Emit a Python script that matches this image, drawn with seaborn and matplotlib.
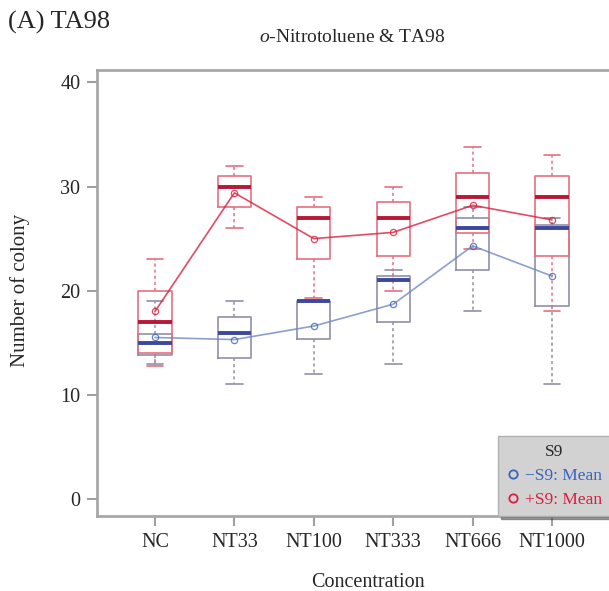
import numpy as np
import pandas as pd
import matplotlib
matplotlib.use("Agg")
import matplotlib.pyplot as plt
from matplotlib.lines import Line2D
import seaborn as sns

# ---- data ----
categories = ["NC", "NT33", "NT100", "NT333", "NT666", "NT1000"]

# five-number summaries: low whisker, Q1, median, Q3, high whisker
minus_lo  = [13.0, 11.0, 12.0, 13.0, 18.0, 11.0]
minus_q1  = [13.8, 13.5, 15.4, 17.0, 22.0, 18.5]
minus_med = [15.0, 15.9, 19.0, 21.0, 26.0, 26.0]
minus_q3  = [15.8, 17.5, 19.0, 21.4, 27.0, 26.3]
minus_hi  = [19.0, 19.0, 19.0, 22.0, 28.0, 27.0]
minus_mean = [15.5, 15.3, 16.6, 18.7, 24.3, 21.4]

plus_lo  = [12.8, 26.0, 19.3, 20.0, 24.0, 18.0]
plus_q1  = [14.0, 28.0, 23.0, 23.3, 25.5, 23.3]
plus_med = [17.0, 30.0, 27.0, 27.0, 29.0, 29.0]
plus_q3  = [20.0, 31.0, 28.0, 28.5, 31.3, 31.0]
plus_hi  = [23.0, 32.0, 29.0, 30.0, 33.8, 33.0]
plus_mean = [18.0, 29.4, 25.0, 25.6, 28.2, 26.8]

y_ticks = [0, 10, 20, 30, 40]


def five_num_frame(lo, q1, med, q3, hi):
    rows = []
    for c, a, b, m, d, e in zip(categories, lo, q1, med, q3, hi):
        for v in (a, b, m, d, e):
            rows.append({"Concentration": c, "Number of colony": v})
    return pd.DataFrame(rows)


df_minus = five_num_frame(minus_lo, minus_q1, minus_med, minus_q3, minus_hi)
df_plus = five_num_frame(plus_lo, plus_q1, plus_med, plus_q3, plus_hi)
mean_minus = pd.DataFrame({"Concentration": categories, "Number of colony": minus_mean})
mean_plus = pd.DataFrame({"Concentration": categories, "Number of colony": plus_mean})

# ---- style ----
sns.set_style("white")
plt.rcParams["font.family"] = ["Liberation Serif", "DejaVu Serif"]
plt.rcParams["mathtext.fontset"] = "custom"
plt.rcParams["mathtext.rm"] = "Liberation Serif"
plt.rcParams["mathtext.it"] = "Liberation Serif:italic"

RED = "#dc1e3c"
RED_BOX = "#e8707f"
RED_MED = "#b81836"
BLUE = "#3a64c0"
BLUE_LINE = "#7088c0"
BLUE_BOX = "#9090a8"
BLUE_MED = "#3c48a0"

fig = plt.figure(figsize=(6.09, 5.91), dpi=100)
ax = fig.add_axes([97 / 609, 1 - 516 / 591, (610 - 97) / 609, (516 - 70) / 591])

box_w = 0.42
for df, boxc, medc in ((df_minus, BLUE_BOX, BLUE_MED), (df_plus, RED_BOX, RED_MED)):
    sns.boxplot(
        data=df, x="Concentration", y="Number of colony", order=categories,
        ax=ax, width=box_w, fill=False, color=boxc, linewidth=1.2,
        whis=(0, 100), showfliers=False,
        medianprops=dict(color=medc, linewidth=2.8),
        whiskerprops=dict(color=boxc, linestyle=(0, (2, 2)), linewidth=1.1),
        capprops=dict(color=boxc, linewidth=1.2),
        boxprops=dict(color=boxc),
    )

for dfm, lc, mc in ((mean_minus, BLUE_LINE, BLUE), (mean_plus, RED, RED)):
    sns.pointplot(
        data=dfm, x="Concentration", y="Number of colony", order=categories,
        ax=ax, color=lc, errorbar=None, markers="o", linestyles="-",
        linewidth=1.2, markersize=4.5, markerfacecolor="none",
        markeredgecolor=mc, alpha=0.8,
    )

ax.set_xlim(-0.73, 5.73)
ax.set_ylim(-1.65, 41.2)
ax.set_yticks(y_ticks)
ax.set_yticklabels([str(t) for t in y_ticks])

for s in ax.spines.values():
    s.set_color("#a8a8a8")
    s.set_linewidth(2)
ax.tick_params(axis="both", which="both", direction="out", length=7, width=1.5,
               color="#a0a0a0", labelsize=14.5, pad=5, left=True, bottom=True)
ax.set_xlabel("Concentration", fontsize=14.5)
ax.set_ylabel("Number of colony", fontsize=15)
ax.xaxis.set_label_coords((368 - 97) / 513, -0.128)
ax.yaxis.set_label_coords((30 - 97) / 513, (516 - 290) / 446)

fig.text(8 / 609, 1 - 22 / 591, "(A) TA98", fontsize=19, ha="left", va="center")
fig.text(352 / 609, 1 - 37 / 591, r"$\mathit{o}$-Nitrotoluene & TA98",
         fontsize=14, ha="center", va="center")

handles = [
    Line2D([], [], linestyle="none", marker="o", markersize=6,
           markerfacecolor="none", markeredgecolor=BLUE, markeredgewidth=1.3),
    Line2D([], [], linestyle="none", marker="o", markersize=6,
           markerfacecolor="none", markeredgecolor=RED, markeredgewidth=1.3),
]
leg = ax.legend(handles, ["\u2212S9: Mean", "+S9: Mean"], title="S9",
                loc="lower right", bbox_to_anchor=(1.0, 0.0), borderaxespad=0.0,
                fontsize=12.5, title_fontsize=12.5, frameon=True, fancybox=False,
                shadow=True, handletextpad=0.3, handlelength=0.8,
                borderpad=0.45, labelspacing=0.45)
leg.get_frame().set_facecolor("#d2d2d2")
leg.get_frame().set_edgecolor("#b0b0b0")
leg.get_frame().set_alpha(1)
for t, c in zip(leg.get_texts(), (BLUE, RED)):
    t.set_color(c)

fig.savefig("out.png", dpi=100)
